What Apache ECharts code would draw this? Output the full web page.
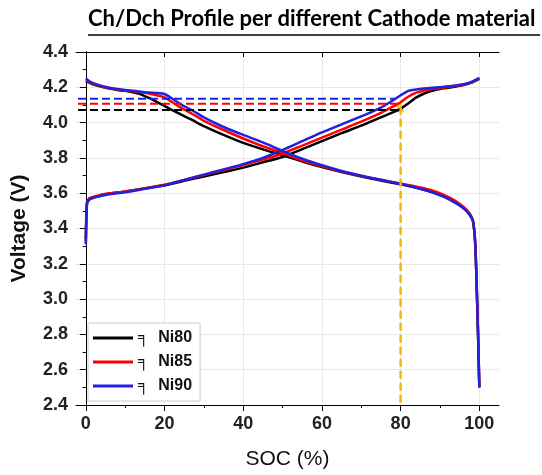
<!DOCTYPE html>
<html>
<head>
<meta charset="utf-8">
<script src="https://cdn.jsdelivr.net/npm/echarts@6/dist/echarts.min.js"></script>
<style>
  html, body { margin: 0; padding: 0; background: #fff; }
  #chart { width: 542px; height: 475px; }
</style>
</head>
<body>
<div id="chart"></div>
<script>
// SOC grid for the charge curves and for the discharge curves
var socCh = [0, 0.3, 1, 3, 5, 10, 15, 20, 25, 30, 35, 40, 45, 50, 55, 60, 65, 70, 75, 78, 80, 82, 84, 86, 88, 90, 93, 96, 98, 100];
var socDch = [0, 1, 2, 4, 6, 8, 10, 12, 14, 16, 18, 20, 22, 24, 27, 30, 35, 40, 45, 50, 55, 60, 65, 70, 75, 80, 85, 88, 91, 94, 96, 97, 98, 98.5, 99, 99.4, 99.7, 100];

// charge voltage (V)
var chNi80 = [3.34, 3.55, 3.572, 3.585, 3.595, 3.61, 3.627, 3.645, 3.67, 3.695, 3.72, 3.745, 3.775, 3.805, 3.85, 3.895, 3.94, 3.983, 4.03, 4.058, 4.078, 4.11, 4.143, 4.165, 4.18, 4.19, 4.2, 4.213, 4.226, 4.248];
var chNi85 = [3.32, 3.545, 3.57, 3.585, 3.595, 3.61, 3.628, 3.648, 3.675, 3.703, 3.73, 3.76, 3.79, 3.825, 3.87, 3.915, 3.96, 4.005, 4.055, 4.09, 4.115, 4.148, 4.17, 4.182, 4.19, 4.195, 4.205, 4.215, 4.228, 4.25];
var chNi90 = [3.31, 3.54, 3.565, 3.58, 3.59, 3.605, 3.625, 3.645, 3.675, 3.705, 3.735, 3.765, 3.8, 3.845, 3.895, 3.945, 3.99, 4.035, 4.085, 4.125, 4.155, 4.18, 4.188, 4.193, 4.197, 4.2, 4.207, 4.217, 4.23, 4.253];

// discharge voltage (V)
var dchNi80 = [4.235, 4.225, 4.215, 4.203, 4.193, 4.185, 4.18, 4.172, 4.16, 4.14, 4.118, 4.095, 4.07, 4.048, 4.015, 3.98, 3.93, 3.885, 3.848, 3.815, 3.78, 3.748, 3.72, 3.695, 3.672, 3.65, 3.625, 3.605, 3.58, 3.545, 3.515, 3.492, 3.462, 3.43, 3.3, 3.02, 2.78, 2.5];
var dchNi85 = [4.24, 4.228, 4.218, 4.205, 4.195, 4.188, 4.182, 4.177, 4.172, 4.165, 4.155, 4.143, 4.115, 4.086, 4.05, 4.01, 3.958, 3.91, 3.866, 3.828, 3.785, 3.752, 3.723, 3.698, 3.676, 3.655, 3.632, 3.615, 3.59, 3.555, 3.522, 3.5, 3.468, 3.43, 3.3, 3.02, 2.78, 2.5];
var dchNi90 = [4.25, 4.232, 4.222, 4.208, 4.198, 4.19, 4.185, 4.18, 4.175, 4.17, 4.168, 4.162, 4.135, 4.105, 4.07, 4.03, 3.975, 3.93, 3.888, 3.84, 3.795, 3.758, 3.726, 3.699, 3.676, 3.652, 3.625, 3.606, 3.58, 3.545, 3.515, 3.495, 3.465, 3.43, 3.3, 3.02, 2.78, 2.5];

var names = ['Ni80', 'Ni85', 'Ni90'];
var colors = ['#000000', '#ff0000', '#2020e0'];

// 80% SOC cut-off voltages (dashed lines) and where they meet the charge curve
var cutV = [4.072, 4.107, 4.135];
var cutStart = -2;
var cutEnd = [79.5, 79.3, 78.7];
var markSoc = 80;
var markV = 4.09;

var xMajor = [0, 20, 40, 60, 80, 100];
var xMinor = [10, 30, 50, 70, 90];

function pairs(xs, ys) {
    return xs.map(function(x, i) { return [x, ys[i]]; });
}

var chData = [chNi80, chNi85, chNi90];
var dchData = [dchNi80, dchNi85, dchNi90];

var series = [];
names.forEach(function(n, i) {
    series.push({
        name: n, type: 'line', showSymbol: false, smooth: 0.2,
        lineStyle: { color: colors[i], width: 2.5 },
        itemStyle: { color: colors[i] },
        data: pairs(socCh, chData[i])
    });
    series.push({
        name: n, type: 'line', showSymbol: false, smooth: 0.2,
        lineStyle: { color: colors[i], width: 2.5 },
        itemStyle: { color: colors[i] },
        data: pairs(socDch, dchData[i])
    });
});
names.forEach(function(n, i) {
    series.push({
        name: n + ' cut', type: 'line', showSymbol: false,
        lineStyle: { color: colors[i], width: 2, type: [8, 4] },
        data: [[cutStart, cutV[i]], [cutEnd[i], cutV[i]]]
    });
});
series.push({
    name: '80%', type: 'line', showSymbol: false,
    lineStyle: { color: '#f5b700', width: 2.5, type: [8, 4] },
    data: [[markSoc, markV], [markSoc, 2.4]]
});
series.push({
    name: 'mark', type: 'scatter',
    symbol: 'path://M50,0 L61,35 L98,35 L68,57 L79,91 L50,70 L21,91 L32,57 L2,35 L39,35 Z',
    symbolSize: 13,
    itemStyle: { color: '#f5b700' },
    data: [[markSoc, markV]]
});

var labelFont = { fontFamily: 'Liberation Sans', fontSize: 18, fontWeight: 'bold', color: '#222' };
var axisBlack = { lineStyle: { color: '#000', width: 1 } };

var option = {
    animation: false,
    backgroundColor: '#fff',
    graphic: [{
        type: 'text', left: 88, top: 8,
        style: { text: 'Ch/Dch Profile per different Cathode material', fontFamily: 'Lato', fontSize: 22, fontWeight: 'bold', fill: '#000' }
    }, {
        type: 'line', shape: { x1: 88, y1: 35, x2: 540, y2: 35 },
        style: { stroke: '#000', lineWidth: 1.5 }
    }],
    grid: { left: 76, right: 43, top: 52, bottom: 68 },
    legend: {
        data: names, orient: 'vertical', left: 88, top: 323,
        backgroundColor: '#fff', borderColor: '#ccc', borderWidth: 1,
        padding: [7, 8, 7, 5], itemGap: 8, itemWidth: 40, itemHeight: 3, icon: 'rect',
        formatter: function(n) { return '╕  ' + n; },
        textStyle: { fontFamily: 'Liberation Sans', fontSize: 16, fontWeight: 'bold', color: '#111' }
    },
    xAxis: [{
        type: 'value', position: 'bottom', min: -2.5, max: 105,
        axisLine: axisBlack,
        axisTick: { customValues: xMajor, length: 6, lineStyle: { color: '#000' } },
        axisLabel: Object.assign({ customValues: xMajor, margin: 10 }, labelFont),
        splitLine: { show: true, lineStyle: { color: '#e8e8e8' } },
        name: 'SOC (%)', nameLocation: 'middle', nameGap: 44,
        nameTextStyle: { fontFamily: 'Liberation Sans', fontSize: 21, color: '#111' }
    }, {
        type: 'value', position: 'bottom', min: -2.5, max: 105,
        axisLine: { show: false },
        axisTick: { customValues: xMinor, length: 3, lineStyle: { color: '#000' } },
        axisLabel: { show: false },
        splitLine: { show: false }
    }, {
        type: 'value', position: 'top', min: -2.5, max: 105,
        axisLine: axisBlack,
        axisTick: { customValues: xMajor, inside: true, length: 5, lineStyle: { color: '#000' } },
        axisLabel: { show: false },
        splitLine: { show: false }
    }],
    yAxis: [{
        type: 'value', position: 'left', min: 2.4, max: 4.4, interval: 0.2,
        axisLine: axisBlack,
        axisTick: { length: 6, lineStyle: { color: '#000' } },
        minorTick: { show: true, splitNumber: 2, length: 3, lineStyle: { color: '#000' } },
        axisLabel: Object.assign({ margin: 8, formatter: function(v) { return v.toFixed(1); } }, labelFont),
        splitLine: { show: true, lineStyle: { color: '#e8e8e8' } },
        name: 'Voltage (V)', nameLocation: 'middle', nameGap: 46,
        nameTextStyle: { fontFamily: 'Liberation Sans', fontSize: 21, fontWeight: 'bold', color: '#111' }
    }, {
        type: 'value', position: 'right', min: 2.4, max: 4.4, interval: 0.2,
        axisLine: axisBlack,
        axisTick: { inside: true, length: 5, lineStyle: { color: '#000' } },
        minorTick: { show: true, splitNumber: 2, length: 3, lineStyle: { color: '#000' } },
        axisLabel: { show: false },
        splitLine: { show: false }
    }],
    series: series
};

var myChart = echarts.init(document.getElementById('chart'));
myChart.setOption(option);
</script>
</body>
</html>
